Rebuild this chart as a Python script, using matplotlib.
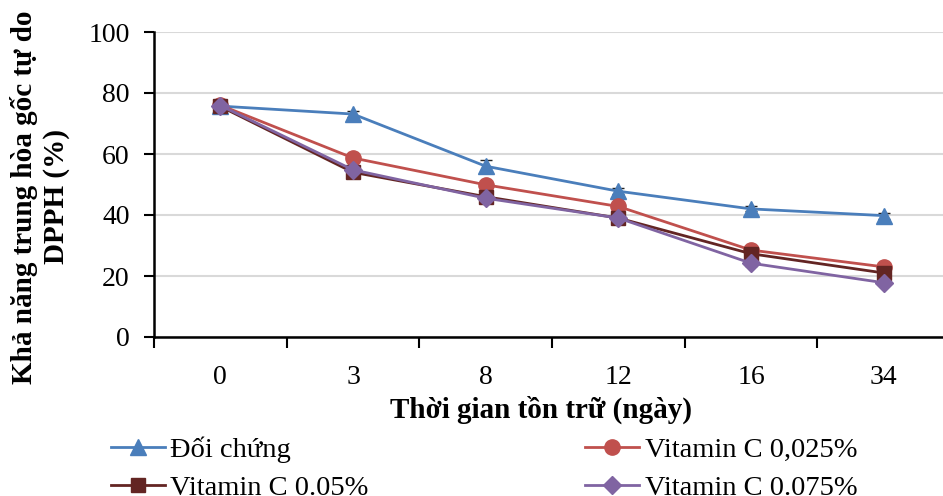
import matplotlib
matplotlib.use("Agg")
import matplotlib.pyplot as plt
from matplotlib.ticker import FixedLocator, NullFormatter
import numpy as np

plt.rcParams['font.family'] = ['Liberation Serif', 'DejaVu Serif']

days = ["0", "3", "8", "12", "16", "34"]
series_names = ["Đối chứng", "Vitamin C 0,025%", "Vitamin C 0.05%", "Vitamin C 0.075%"]
doi_chung = [75.7, 73.1, 56.0, 47.8, 42.0, 39.8]
vitc_0025 = [76.0, 58.7, 49.9, 42.8, 28.5, 23.0]
vitc_005 = [75.6, 54.0, 46.0, 39.0, 27.3, 21.0]
vitc_0075 = [75.9, 54.8, 45.5, 39.0, 24.2, 17.8]
err_doi_chung = [0.5, 1.0, 2.0, 1.0, 0.8, 1.0]
err_0025 = [0.5, 0.8, 0.8, 0.8, 0.8, 0.8]
err_005 = [0.5, 0.8, 0.8, 0.8, 0.8, 0.8]
err_0075 = [0.5, 0.8, 0.8, 0.8, 0.8, 0.8]

values = [doi_chung, vitc_0025, vitc_005, vitc_0075]
errors = [err_doi_chung, err_0025, err_005, err_0075]
colors = ["#4a7ebb", "#c0504d", "#632523", "#8064a2"]
markers = ["^", "o", "s", "D"]
msizes = [11, 11, 10, 9.5]

fig = plt.figure(figsize=(9.43, 4.96), dpi=100)
ax = fig.add_axes([154 / 943, 1 - 337 / 496, 796 / 943, 305 / 496])

x = np.arange(len(days))
handles = []
for vals, errs, c, m, ms, name in zip(values, errors, colors, markers, msizes, series_names):
    ax.errorbar(x, vals, yerr=errs, fmt="none", ecolor="#222222", elinewidth=1.0,
                capsize=4, capthick=1.0, zorder=2)
    h, = ax.plot(x, vals, color=c, lw=2.0, marker=m, markersize=ms,
                 markerfacecolor=c, markeredgecolor=c, label=name, zorder=3)
    handles.append(h)

ax.set_xlim(-0.5, len(days) - 0.5)
ax.set_ylim(0, 100)
ax.set_yticks(np.arange(0, 101, 20))
ax.set_xticks(x)
ax.set_xticklabels(days)
ax.xaxis.set_minor_locator(FixedLocator(np.arange(-0.5, len(days), 1.0)))
ax.xaxis.set_minor_formatter(NullFormatter())
ax.tick_params(axis="x", which="major", length=0, pad=20, labelsize=20)
ax.tick_params(axis="x", which="minor", length=8, width=1.5, direction="out")
ax.tick_params(axis="y", which="major", length=7, width=1.5, direction="out",
               pad=10.5, labelsize=20)

ax.grid(axis="y", color="#d9d9d9", lw=1.5)
ax.set_axisbelow(True)
for s in ["top", "right"]:
    ax.spines[s].set_visible(False)
for s in ["left", "bottom"]:
    ax.spines[s].set_linewidth(1.8)
    ax.spines[s].set_color("black")

fig.text(541 / 943, 1 - 410 / 496, "Thời gian tồn trữ (ngày)", ha="center", va="center",
         fontsize=21, fontweight="bold")
fig.text(40 / 943, 1 - 197 / 496, "Khả năng trung hòa gốc tự do\nDPPH (%)",
         ha="center", va="center", rotation=90, fontsize=21, fontweight="bold",
         linespacing=1.2)

# legend laid out row by row: two entries per row
order = [0, 2, 1, 3]
fig.legend(handles=[handles[i] for i in order], loc="upper left",
           bbox_to_anchor=(105 / 943, 1 - 431 / 496),
           ncol=2, frameon=False, fontsize=20.5, handlelength=1.9, handletextpad=0.2,
           columnspacing=7.6, labelspacing=0.4, borderaxespad=0, borderpad=0.2)

fig.savefig("out.png", dpi=100)
